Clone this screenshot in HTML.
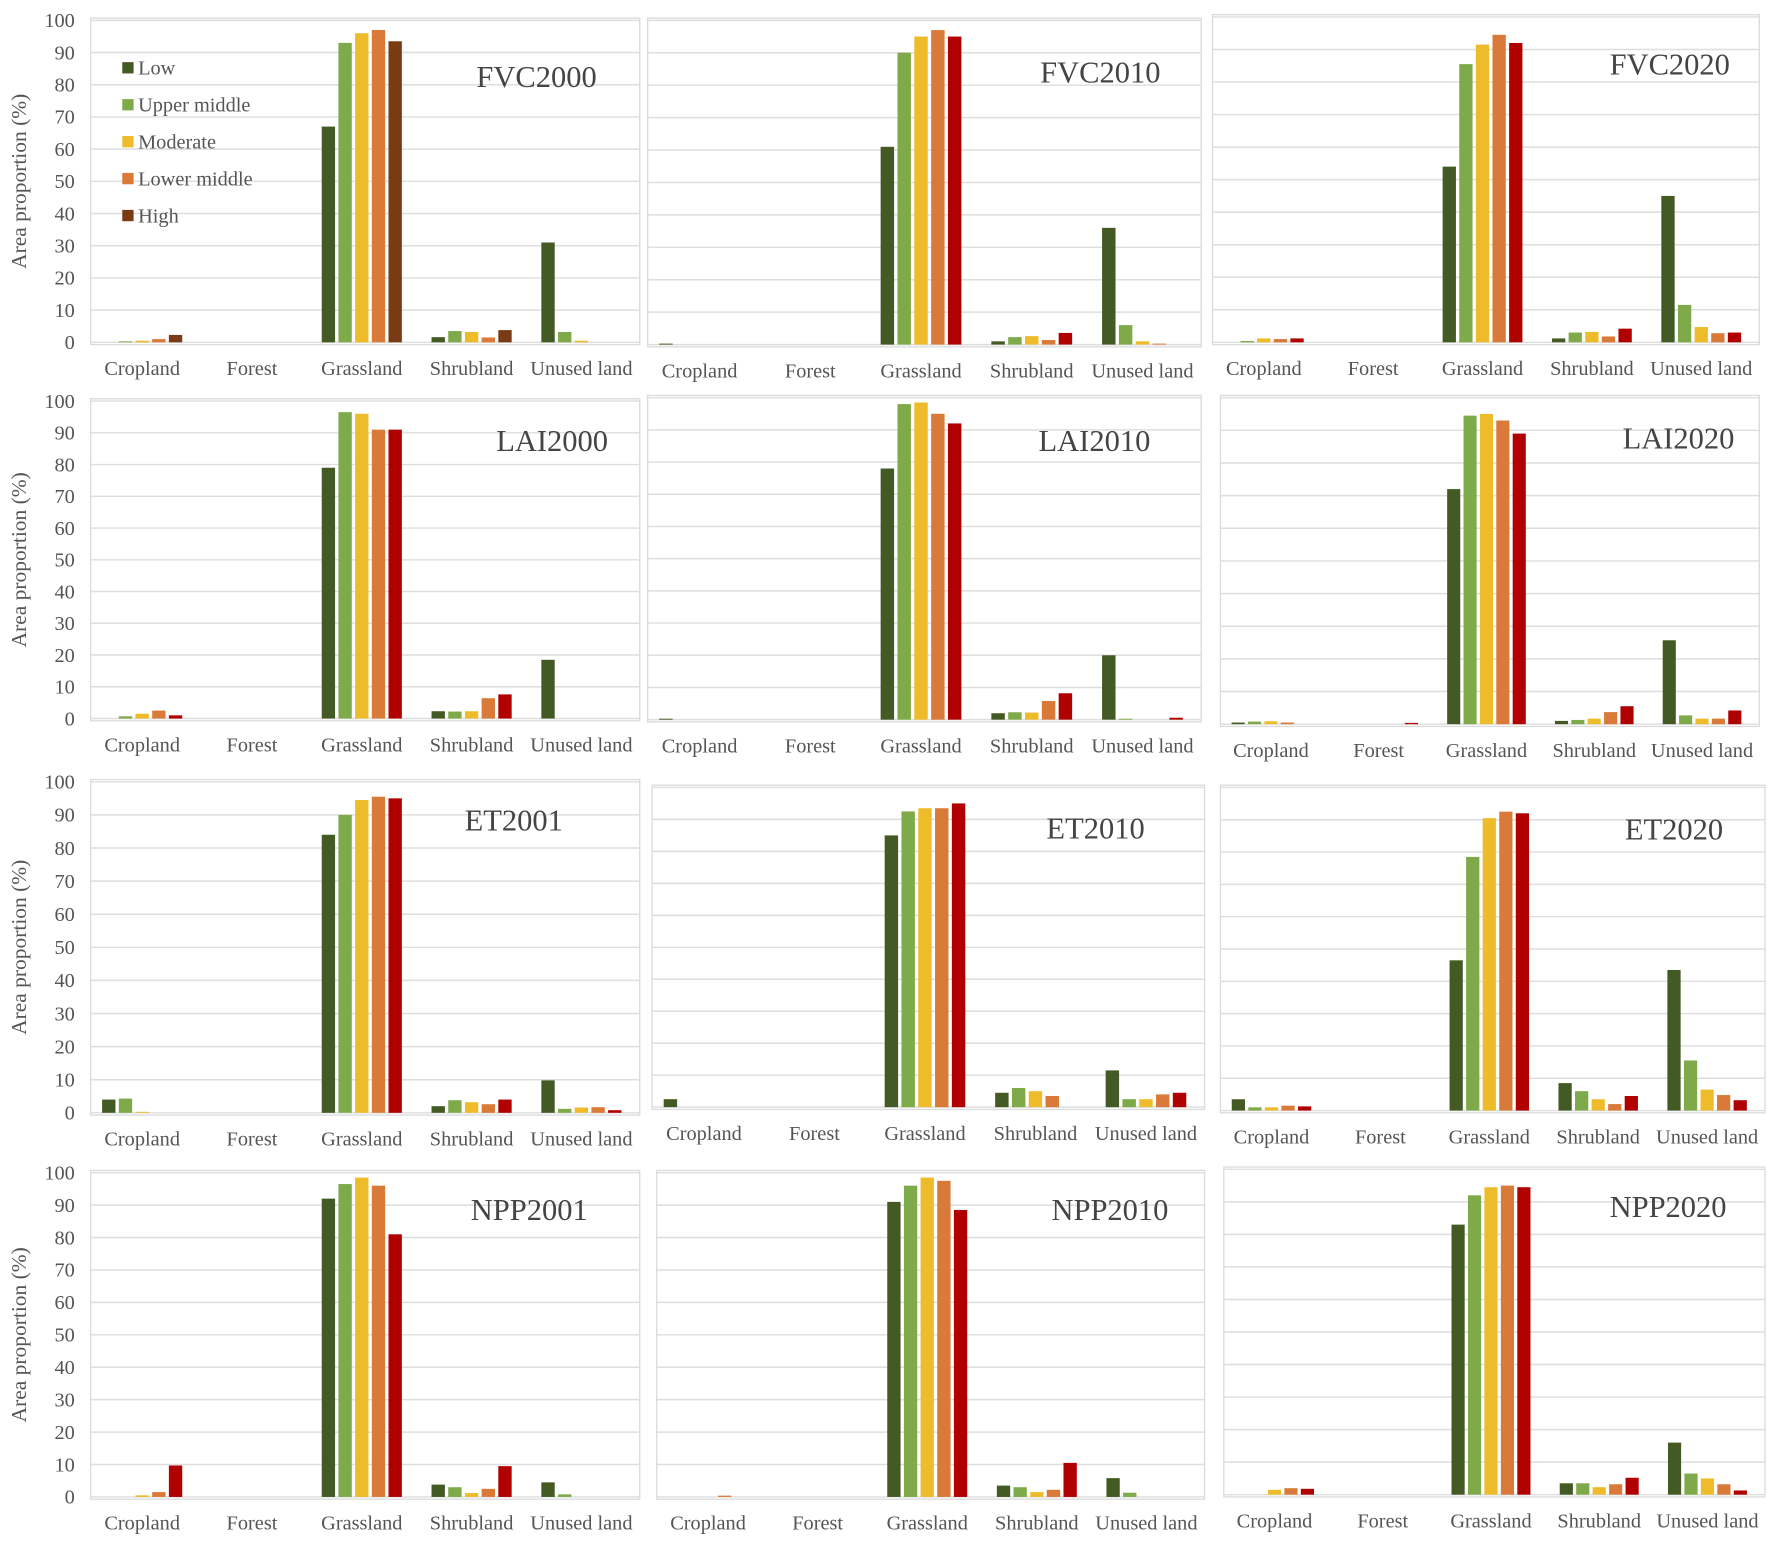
<!DOCTYPE html>
<html><head><meta charset="utf-8"><style>
html,body{margin:0;padding:0;background:#fff;}
svg{display:block;font-family:"Liberation Serif",serif;}
</style></head><body>
<svg id="chart" width="1772" height="1541" viewBox="0 0 1568 1364" xmlns="http://www.w3.org/2000/svg"></svg>
<script>
const categories = ["Cropland","Forest","Grassland","Shrubland","Unused land"];
const levels = ["Low","Upper middle","Moderate","Lower middle","High"];
const yTicks = [0,10,20,30,40,50,60,70,80,90,100];
const panelTitles = ["FVC2000","FVC2010","FVC2020","LAI2000","LAI2010","LAI2020","ET2001","ET2010","ET2020","NPP2001","NPP2010","NPP2020"];
// values[panel][category][level]
const fvc2000 = [[0,0.3,0.5,1,2.3],[0,0,0,0,0],[67,93,96,97,93.5],[1.6,3.5,3.2,1.5,3.8],[31,3.2,0.5,0,0]];
const fvc2010 = [[0.3,0,0,0,0],[0,0,0,0,0],[61,90,95,97,95],[1,2.3,2.6,1.4,3.6],[36,6,1,0.3,0]];
const fvc2020 = [[0,0.4,1.2,1,1.2],[0,0,0,0,0],[54,85.5,91.5,94.5,92],[1.2,3,3.2,1.8,4.2],[45,11.5,4.7,2.8,3]];
const lai2000 = [[0,0.7,1.5,2.5,1],[0,0,0,0,0],[79,96.5,96,91,91],[2.3,2.2,2.3,6.4,7.6],[18.5,0,0,0,0]];
const lai2010 = [[0.3,0,0,0,0],[0,0,0,0,0],[78,98,98.5,95,92],[2,2.3,2.2,5.8,8.2],[20,0.3,0,0,0.6]];
const lai2020 = [[0.5,0.8,0.9,0.5,0],[0,0,0,0,0.4],[72,94.5,95,93,89],[1,1.3,1.7,3.7,5.5],[25.7,2.7,1.7,1.7,4.2]];
const et2001 = [[4,4.3,0.3,0,0],[0,0,0,0,0],[84,90,94.5,95.5,95],[2,3.8,3.2,2.6,4],[9.8,1.2,1.6,1.7,0.8]];
const et2010 = [[2.5,0,0,0,0],[0,0,0,0,0],[85,92.5,93.5,93.5,95],[4.5,6,5,3.5,0],[11.5,2.5,2.5,4,4.5]];
const et2020 = [[3.5,1,1,1.5,1.3],[0,0,0,0,0],[46.5,78.5,90.5,92.5,92],[8.5,6,3.5,2,4.5],[43.5,15.5,6.5,4.8,3.2]];
const npp2001 = [[0,0,0.5,1.5,9.7],[0,0,0,0,0],[92,96.5,98.5,96,81],[3.8,3,1.2,2.5,9.5],[4.5,0.8,0,0,0]];
const npp2010 = [[0,0,0,0.4,0],[0,0,0,0,0],[91,96,98.5,97.5,88.5],[3.5,3,1.5,2.2,10.5],[5.8,1.3,0,0,0]];
const npp2020 = [[0,0,1.5,2,1.8],[0,0,0,0,0],[83,92,94.5,95,94.5],[3.5,3.5,2.3,3.2,5.2],[16,6.5,5,3.2,1.3]];
const panelValues = [fvc2000,fvc2010,fvc2020,lai2000,lai2010,lai2020,et2001,et2010,et2020,npp2001,npp2010,npp2020];

// layout (viewBox units)
const frames = [
 [80,566,18,303,77,528],[573,1063,18,305,73,1027],[1073,1557,15,303,66,1531],
 [80,566,355,636,399,538],[573,1063,352,637,399,1018],[1080,1557,352,641,397,1535],
 [80,566,692,985,735,498],[577,1066,697,980,742,1013],[1080,1562,697,983,743,1525],
 [80,566,1038,1325,1080,520],[581,1066,1038,1325,1080,1034],[1083,1562,1035,1323,1077,1528]
];
const colorsDefault = ["#435a24","#7faa49","#eebc2b","#d97a38","#b00000"];
const colorsFVC2000 = ["#435a24","#7faa49","#eebc2b","#d97a38","#7a3a14"];
const NS="http://www.w3.org/2000/svg";
const svg=document.getElementById('chart');
function mk(tag,attrs,parent){const e=document.createElementNS(NS,tag);for(const k in attrs)e.setAttribute(k,attrs[k]);(parent||svg).appendChild(e);return e;}

panelTitles.forEach((t,p)=>{
  const [x0,x1,top,zero,ty,tx]=frames[p];
  const g=mk('g',{});
  
  
  const yS=v=>zero-(zero-top)*v/100;
  mk('rect',{x:x0,y:top-2,width:x1-x0,height:zero-top+4,fill:'none',stroke:'#dcdcdc','stroke-width':1.2},g);
  yTicks.forEach(v=>{
    const l=mk('line',{x1:x0,x2:x1,y1:yS(v),y2:yS(v),stroke:'#dedede','stroke-width':1.3},g);
    
    
    if(p%3===0){
      const tl=mk('text',{x:x0-14,y:yS(v)+6,'text-anchor':'end','font-size':18,fill:'#555'},g);
      tl.textContent=v;
      
      
    }
  });
  const cw=(x1-x0)/5, step=cw*0.152, bw=step*0.8;
  const cols=p===0?colorsFVC2000:colorsDefault;
  categories.forEach((c,ci)=>{
    const cx=x0+cw*(ci+0.5)-3;
    panelValues[p][ci].forEach((v,li)=>{
      if(v<=0)return;
      const bx=cx+(li-2)*step-bw/2;
      const r=mk('rect',{x:bx,y:yS(v),width:bw,height:zero-yS(v),fill:cols[li]},g);
      
      
    });
    const cl=mk('text',{x:cx,y:zero+29,'text-anchor':'middle','font-size':18,fill:'#555'},g);
    cl.textContent=c;
    
    
  });
  const tt=mk('text',{x:tx,y:ty,'text-anchor':'end','font-size':27,fill:'#444'},g);
  tt.textContent=t;
  
  
  if(p%3===0){
    const cy=(top+zero)/2;
    const yl=mk('text',{x:0,y:0,'text-anchor':'middle','font-size':19,fill:'#555',transform:'translate(23,'+cy+') rotate(-90)'},g);
    yl.textContent='Area proportion (%)';
    
    
  }
});
// legend
const lg=mk('g',{});


levels.forEach((lv,i)=>{
  const y=66+i*32.7;
  mk('rect',{x:108,y:y-11,width:10,height:10,fill:colorsFVC2000[i]},lg);
  const t=mk('text',{x:122,y:y,'font-size':18,fill:'#555'},lg);
  t.textContent=lv;
  
  
});
</script>
</body></html>
